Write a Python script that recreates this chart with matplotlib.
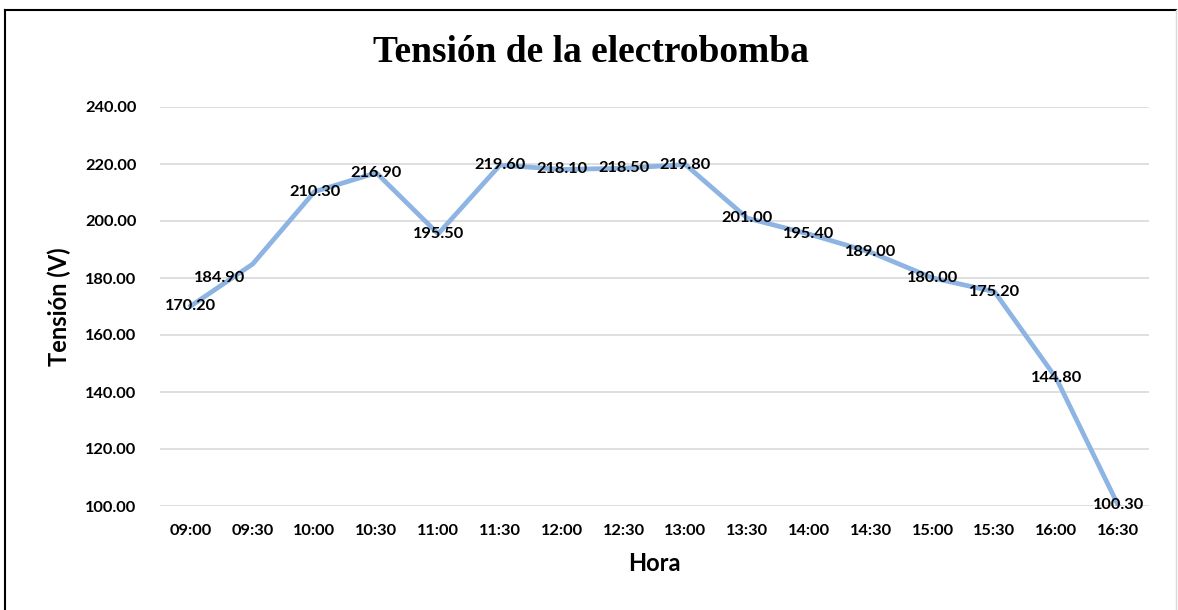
import matplotlib
matplotlib.use('Agg')
import matplotlib.pyplot as plt
from matplotlib.lines import Line2D

horas = ['09:00', '09:30', '10:00', '10:30', '11:00', '11:30', '12:00', '12:30',
         '13:00', '13:30', '14:00', '14:30', '15:00', '15:30', '16:00', '16:30']
tension = [170.2, 184.9, 210.3, 216.9, 195.5, 219.6, 218.1, 218.5,
           219.8, 201.0, 195.4, 189.0, 180.0, 175.2, 144.8, 100.3]
y_ticks = [100, 120, 140, 160, 180, 200, 220, 240]

sans = ['Lato', 'DejaVu Sans']

fig = plt.figure(figsize=(11.78, 6.10), dpi=100)
ax = fig.add_axes([160 / 1178, 104 / 610, 989 / 1178, 399 / 610])

x = list(range(len(horas)))
ax.plot(x, tension, color='#8DB4E2', linewidth=3.4, solid_joinstyle='round', zorder=2)

# etiquetas de datos (centradas sobre el punto, salvo la segunda)
for i, v in enumerate(tension):
    dx, dy = 0, 0
    if i == 1:
        dx, dy = -24, -10
    ax.annotate(f'{v:.2f}', (i, v), xytext=(dx, dy), textcoords='offset points',
                ha='center', va='center', fontsize=11.8, fontweight='bold',
                family=sans, color='black', zorder=3)

ax.set_xlim(-0.5, len(horas) - 0.5)
ax.set_ylim(100, 240)
ax.set_yticks(y_ticks)
ax.set_yticklabels([f'{t:.2f}' for t in y_ticks])
ax.set_xticks(x)
ax.set_xticklabels(horas)
ax.grid(axis='y', color='#D9D9D9', linewidth=1.2, zorder=0)
ax.set_axisbelow(True)
for s in ax.spines.values():
    s.set_visible(False)
ax.tick_params(length=0, labelsize=11.8, pad=13)
for lab in ax.get_xticklabels() + ax.get_yticklabels():
    lab.set_fontweight('bold')
    lab.set_family(sans)
ax.tick_params(axis='y', pad=17)

ax.set_xlabel('Hora', fontsize=17, fontweight='bold', family=sans, labelpad=10)
ax.set_ylabel('Tensión (V)', fontsize=17, fontweight='bold', family=sans, labelpad=10)

fig.text(591 / 1178, 1 - 53 / 610, 'Tensión de la electrobomba', ha='center', va='center',
         fontsize=27, fontweight='bold', family=['Liberation Serif', 'DejaVu Serif'])

# borde del gráfico
fig.add_artist(Line2D([5 / 1178, 5 / 1178], [0, 1 - 10 / 610], transform=fig.transFigure,
                      color='black', linewidth=1.5))
fig.add_artist(Line2D([5 / 1178, 1176 / 1178], [1 - 10 / 610, 1 - 10 / 610],
                      transform=fig.transFigure, color='black', linewidth=1.5))
fig.add_artist(Line2D([1176 / 1178, 1176 / 1178], [0, 1 - 10 / 610], transform=fig.transFigure,
                      color='#D9D9D9', linewidth=1))

fig.savefig('out.png', dpi=100)
